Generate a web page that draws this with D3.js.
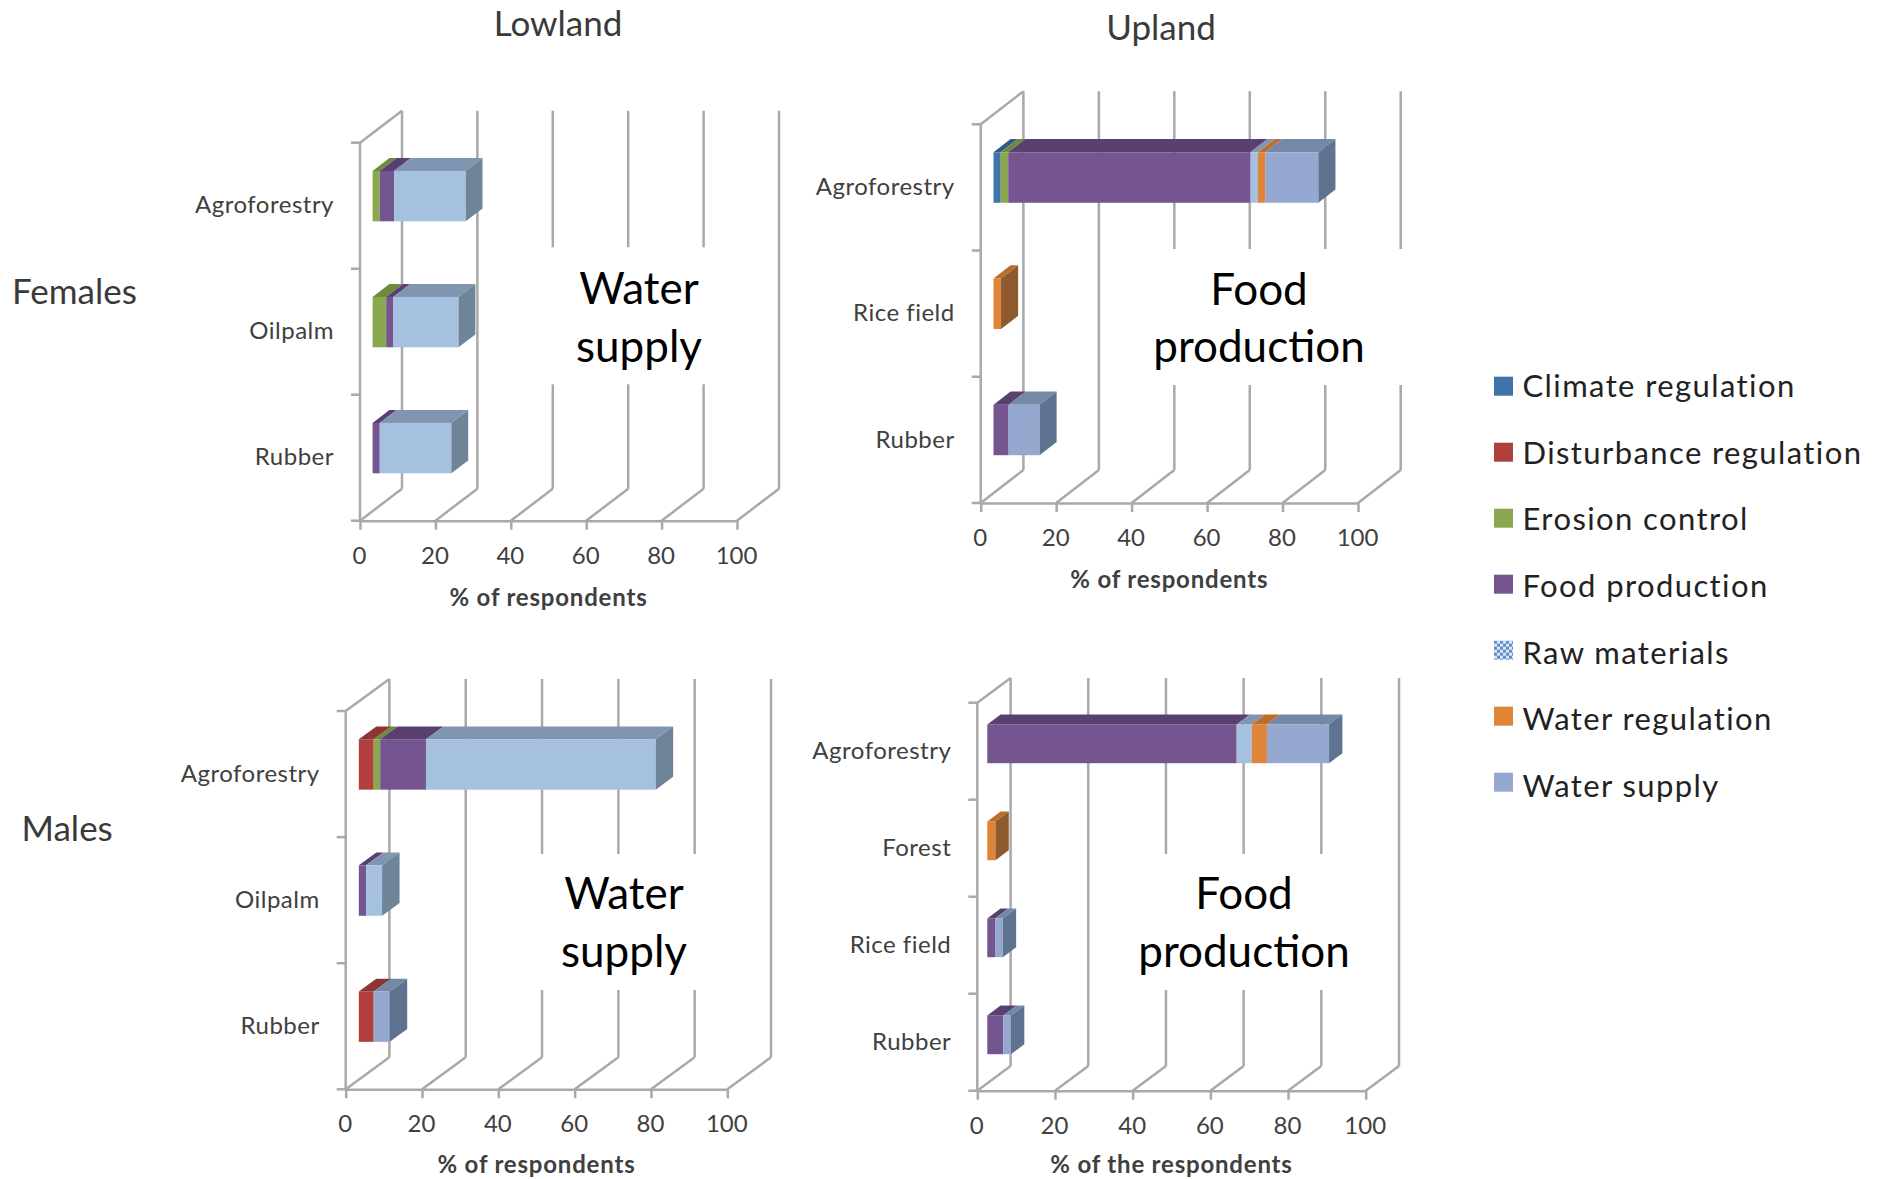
<!DOCTYPE html>
<html>
<head>
<meta charset="utf-8">
<script src="https://cdn.jsdelivr.net/npm/d3@7"></script>
<style>
  html, body { margin: 0; padding: 0; background: #fff; }
  svg { display: block; font-family: Lato, "Open Sans", sans-serif; }
</style>
</head>
<body>
<svg id="chart" width="1877" height="1179"></svg>
<script>
// Perceived ecosystem services by land use, split by gender and landscape position.
const services = ["Climate regulation", "Disturbance regulation", "Erosion control",
  "Food production", "Raw materials", "Water regulation", "Water supply"];
const xTicks = [0, 20, 40, 60, 80, 100];

// Each row lists % of respondents per service, in the order of `services`.
const femaleLowlandCategories = ["Agroforestry", "Oilpalm", "Rubber"];
const femaleLowlandValues = [
  [0, 0, 1.9, 3.8, 19.0, 0, 0],
  [0, 0, 3.6, 1.9, 17.3, 0, 0],
  [0, 0, 0, 1.9, 19.0, 0, 0]
];
const femaleUplandCategories = ["Agroforestry", "Rice field", "Rubber"];
const femaleUplandValues = [
  [1.9, 0, 2.0, 64.2, 2.0, 1.9, 14.1],
  [0, 0, 0, 0, 0, 2.0, 0],
  [0, 0, 0, 4.0, 0, 0, 8.2]
];
const maleLowlandCategories = ["Agroforestry", "Oilpalm", "Rubber"];
const maleLowlandValues = [
  [0, 3.9, 1.7, 12.0, 60.2, 0, 0],
  [0, 0, 0, 1.9, 4.2, 0, 0],
  [0, 3.9, 0, 0, 0, 0, 4.2]
];
const maleUplandCategories = ["Agroforestry", "Forest", "Rice field", "Rubber"];
const maleUplandValues = [
  [0, 0, 0, 64.2, 3.9, 3.9, 16.0],
  [0, 0, 0, 0, 0, 2.1, 0],
  [0, 0, 0, 2.0, 0, 0, 2.0],
  [0, 0, 0, 4.1, 0, 0, 2.0]
];

// Front, top and side shades of every service.
const faceColors = ["#3f74ab", "#b0403e", "#8aa84f", "#74558f", "#a6c0e0", "#e08537", "#95a9d0"];
const topColors = ["#31598a", "#8d3533", "#6e8a3d", "#5a4070", "#8095b0", "#bc6d2a", "#7488a8"];
const sideColors = ["#2a4c75", "#762c2a", "#5d7534", "#4b3560", "#6f8498", "#8c5a2c", "#5f7290"];

const panels = [
  { categories: femaleLowlandCategories, values: femaleLowlandValues, axisTitle: "% of respondents",
    note: ["Water", "supply"], x0: 360, x1: 737, top: 142.7, bottom: 520.7, dx: 42, dy: 32,
    box: [490, 247.3, 283, 137], noteX: 639, noteY: 304, titleGap: 77 },
  { categories: femaleUplandCategories, values: femaleUplandValues, axisTitle: "% of respondents",
    note: ["Food", "production"], x0: 980.7, x1: 1358, top: 124.3, bottom: 503, dx: 42.7, dy: 33,
    box: [1153, 249, 254, 136], noteX: 1259, noteY: 304.5, titleGap: 77 },
  { categories: maleLowlandCategories, values: maleLowlandValues, axisTitle: "% of respondents",
    note: ["Water", "supply"], x0: 345.7, x1: 727.3, top: 711, bottom: 1089.3, dx: 43.7, dy: 32,
    box: [497, 854, 233, 136], noteX: 624, noteY: 909, titleGap: 75 },
  { categories: maleUplandCategories, values: maleUplandValues, axisTitle: "% of the respondents",
    note: ["Food", "production"], x0: 977.3, x1: 1365.7, top: 702.7, bottom: 1090.7, dx: 33.3, dy: 24.7,
    box: [1137, 854, 216, 136], noteX: 1244, noteY: 909, titleGap: 73.5 }
];

const gridColor = "#a9a9a9";
const textColor = "#404040";
const svg = d3.select("#chart");

// Checked fill used by the Raw materials legend key.
const pattern = svg.append("defs").append("pattern")
  .attr("id", "checker").attr("width", 6).attr("height", 6)
  .attr("patternUnits", "userSpaceOnUse");
pattern.append("rect").attr("width", 6).attr("height", 6).attr("fill", "#dce6f5");
pattern.append("rect").attr("width", 3).attr("height", 3).attr("fill", "#5f8ccb");
pattern.append("rect").attr("x", 3).attr("y", 3).attr("width", 3).attr("height", 3).attr("fill", "#5f8ccb");

const polygon = pts => pts.map(p => p.join(",")).join(" ");

function drawPanel(p) {
  const g = svg.append("g");
  const x = d3.scaleLinear().domain([0, 100]).range([p.x0, p.x1]);
  const y = d3.scaleBand().domain(p.categories).range([p.top, p.bottom]);
  const rows = p.categories.map((c, i) => {
    const row = { category: c };
    services.forEach((s, j) => { row[s] = p.values[i][j]; });
    return row;
  });
  const layers = d3.stack().keys(services)(rows);

  const line = (x1, y1, x2, y2) => g.append("line")
    .attr("x1", x1).attr("y1", y1).attr("x2", x2).attr("y2", y2)
    .attr("stroke", gridColor).attr("stroke-width", 2.5);

  // Back wall gridlines and the floor diagonals running to them.
  xTicks.forEach(t => {
    line(x(t) + p.dx, p.top - p.dy, x(t) + p.dx, p.bottom - p.dy);
    line(x(t), p.bottom, x(t) + p.dx, p.bottom - p.dy);
  });
  // Left wall edges and the boundaries between categories.
  line(p.x0, p.top, p.x0, p.bottom);
  line(p.x0, p.top, p.x0 + p.dx, p.top - p.dy);
  line(p.x0 - 9, p.top, p.x0, p.top);
  p.categories.forEach(c => line(p.x0 - 9, y(c) + y.bandwidth(), p.x0, y(c) + y.bandwidth()));

  // White text box that interrupts the gridlines behind the note.
  g.append("rect").attr("x", p.box[0]).attr("y", p.box[1])
    .attr("width", p.box[2]).attr("height", p.box[3]).attr("fill", "#fff");

  // Axes: value ticks along the front floor edge, category names on the left.
  const xAxis = g.append("g").attr("transform", `translate(0,${p.bottom})`)
    .call(d3.axisBottom(x).tickValues(xTicks).tickSize(9).tickPadding(17).tickSizeOuter(0));
  xAxis.select(".domain").attr("stroke", gridColor).attr("stroke-width", 2.5);
  xAxis.selectAll("line").attr("stroke", gridColor).attr("stroke-width", 2.5);
  xAxis.selectAll("text").attr("fill", textColor).attr("dx", -1)
    .style("font-size", "24px").style("font-family", "Lato");

  const yAxis = g.append("g").attr("transform", `translate(${p.x0},0)`)
    .call(d3.axisLeft(y).tickSize(0).tickPadding(26));
  yAxis.select(".domain").remove();
  yAxis.selectAll("text").attr("fill", textColor)
    .style("font-size", "24px").style("font-family", "Lato").style("letter-spacing", "0.5px");

  g.append("text").attr("x", (p.x0 + p.x1) / 2).attr("y", p.bottom + p.titleGap)
    .attr("dy", "0.35em").attr("text-anchor", "middle")
    .attr("fill", textColor).style("font-size", "24px").style("font-weight", 700)
    .style("letter-spacing", "0.8px")
    .text(p.axisTitle);

  // Extruded bars: depth is 40% of the chart depth, centred within it.
  const ox = p.dx * 0.3, oy = p.dy * 0.3, bx = p.dx * 0.4, by = p.dy * 0.4;
  const barHeight = y.bandwidth() * 0.4;
  const faceY = c => y(c) + y.bandwidth() / 2 - barHeight / 2 - oy;

  layers.forEach((layer, s) => {
    layer.forEach((d, i) => {
      if (d[1] <= d[0]) return;
      const c = p.categories[i];
      const left = x(d[0]) + ox, right = x(d[1]) + ox, fy = faceY(c);
      g.append("polygon")
        .attr("points", polygon([[left, fy], [left + bx, fy - by], [right + bx, fy - by], [right, fy]]))
        .attr("fill", topColors[s]);
      g.append("rect").attr("x", left).attr("y", fy)
        .attr("width", right - left).attr("height", barHeight).attr("fill", faceColors[s]);
      // The end cap belongs to the last non-empty segment of the stack.
      const isLast = services.slice(s + 1).every(k => rows[i][k] === 0);
      if (isLast) {
        g.append("polygon")
          .attr("points", polygon([[right, fy], [right + bx, fy - by], [right + bx, fy - by + barHeight], [right, fy + barHeight]]))
          .attr("fill", sideColors[s]);
      }
    });
  });

  // Dominant service named inside the plot.
  g.append("text").attr("x", p.noteX).attr("y", p.noteY)
    .attr("text-anchor", "middle").attr("fill", "#000").style("font-size", "44px")
    .selectAll("tspan").data(p.note).join("tspan")
    .attr("x", p.noteX).attr("dy", (d, i) => i ? 57.5 : 0).text(d => d);
}

panels.forEach(drawPanel);

// Column and row headings.
const headings = [
  { text: "Lowland", x: 558, y: 36, anchor: "middle" },
  { text: "Upland", x: 1161, y: 40, anchor: "middle" },
  { text: "Females", x: 12, y: 304, anchor: "start" },
  { text: "Males", x: 21.5, y: 841, anchor: "start" }
];
svg.append("g").selectAll("text").data(headings).join("text")
  .attr("x", d => d.x).attr("y", d => d.y).attr("text-anchor", d => d.anchor)
  .attr("fill", "#3a3a3a").style("font-size", "35px").text(d => d.text);

// Legend, listed in stacking order; labels run on a slightly wider pitch than the keys.
const legendY = d3.scaleBand().domain(services).range([376.7, 376.7 + 66 * services.length]);
const legend = svg.append("g").selectAll("g").data(services).join("g")
  .attr("transform", d => `translate(1494,${legendY(d)})`);
legend.append("rect").attr("width", 19).attr("height", 19)
  .attr("fill", (d, i) => d === "Raw materials" ? "url(#checker)" : faceColors[i]);
legend.append("text").attr("x", 28.5).attr("y", (d, i) => 20.5 + i * 0.6)
  .attr("fill", "#222").style("font-size", "31px").style("letter-spacing", "1.4px").text(d => d);
</script>
</body>
</html>
